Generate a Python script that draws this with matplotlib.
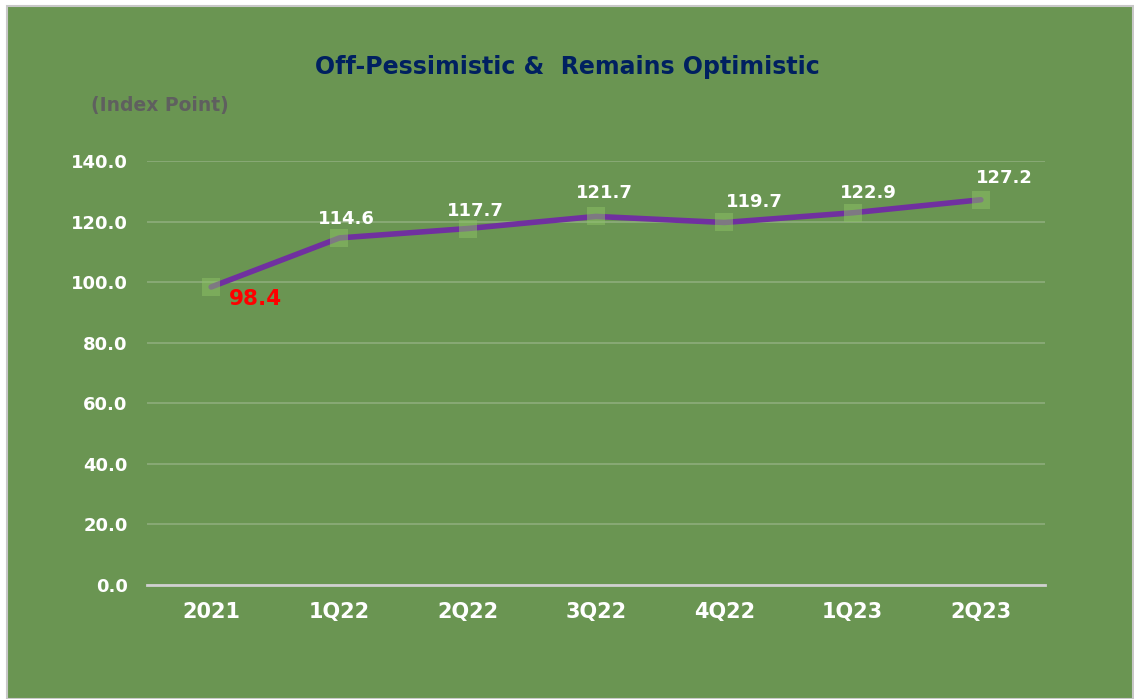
import numpy as np
import matplotlib
matplotlib.use("Agg")
from matplotlib import pyplot as plt
from matplotlib.patches import Rectangle

# dados
periodos = ["2021", "1Q22", "2Q22", "3Q22", "4Q22", "1Q23", "2Q23"]
indice = [98.4, 114.6, 117.7, 121.7, 119.7, 122.9, 127.2]
yticks = [0, 20, 40, 60, 80, 100, 120, 140]

# deslocamento dos rotulos (em pixels)
desloc_x = [44, 7, 8, 8, 30, 16, 24]
desloc_y = [-12, 19, 18, 23, 20, 20, 22]

verde = "#6A9552"
plt.rcParams['font.family'] = ['DejaVu Sans']

fig = plt.figure(figsize=(11.34, 6.99), dpi=100)
fig.patch.set_facecolor("white")
fig.patches.append(Rectangle((7/1134, 0), 1126/1134, 1 - 6/699, transform=fig.transFigure,
                             facecolor=verde, edgecolor="#C8C8C8", linewidth=1.5, zorder=-10))

ax = fig.add_axes([147/1134, 1 - 585/699, 898/1134, 424/699])
ax.set_facecolor("none")
x = np.arange(len(periodos))
ax.set_xlim(-0.5, len(periodos) - 0.5)
ax.set_ylim(0, 140)
ax.set_yticks(yticks)
ax.set_yticklabels([f"{v:.1f}" for v in yticks])
ax.set_xticks(x)
ax.set_xticklabels(periodos)
ax.tick_params(axis='y', length=0, pad=14, labelsize=13, labelcolor="white")
ax.tick_params(axis='x', length=0, pad=12, labelsize=15, labelcolor="white")
for lbl in ax.get_xticklabels() + ax.get_yticklabels():
    lbl.set_fontweight("bold")
for s in ["top", "right", "left"]:
    ax.spines[s].set_visible(False)
ax.spines["bottom"].set_color("#D0D0D0")
ax.spines["bottom"].set_linewidth(2)
ax.grid(True, 'major', 'y', color="#8DAD7B", linewidth=1.2)
ax.set_axisbelow(True)

ax.plot(x, indice, color="#7030A0", linewidth=4, solid_capstyle="round", zorder=3)
ax.scatter(x, indice, marker='s', s=185, color="#8CC265", alpha=0.5, linewidths=0, zorder=4)

for i, v in enumerate(indice):
    cor = "red" if i == 0 else "white"
    tam = 15.5 if i == 0 else 13
    ax.annotate(f"{v:.1f}", (x[i], v), xytext=(desloc_x[i] * 0.72, desloc_y[i] * 0.72),
                textcoords="offset points", ha="center", va="center",
                color=cor, fontsize=tam, fontweight="bold", zorder=5)

fig.text(567/1134, 1 - 67/699, "Off-Pessimistic &  Remains Optimistic", ha="center", va="center",
         color="#002060", fontsize=17, fontweight="bold")
fig.text(160/1134, 1 - 106/699, "(Index Point)", ha="center", va="center",
         color="#5F5F5F", fontsize=13.5, fontweight="bold")

plt.savefig("out.png", dpi=100)
plt.close()
